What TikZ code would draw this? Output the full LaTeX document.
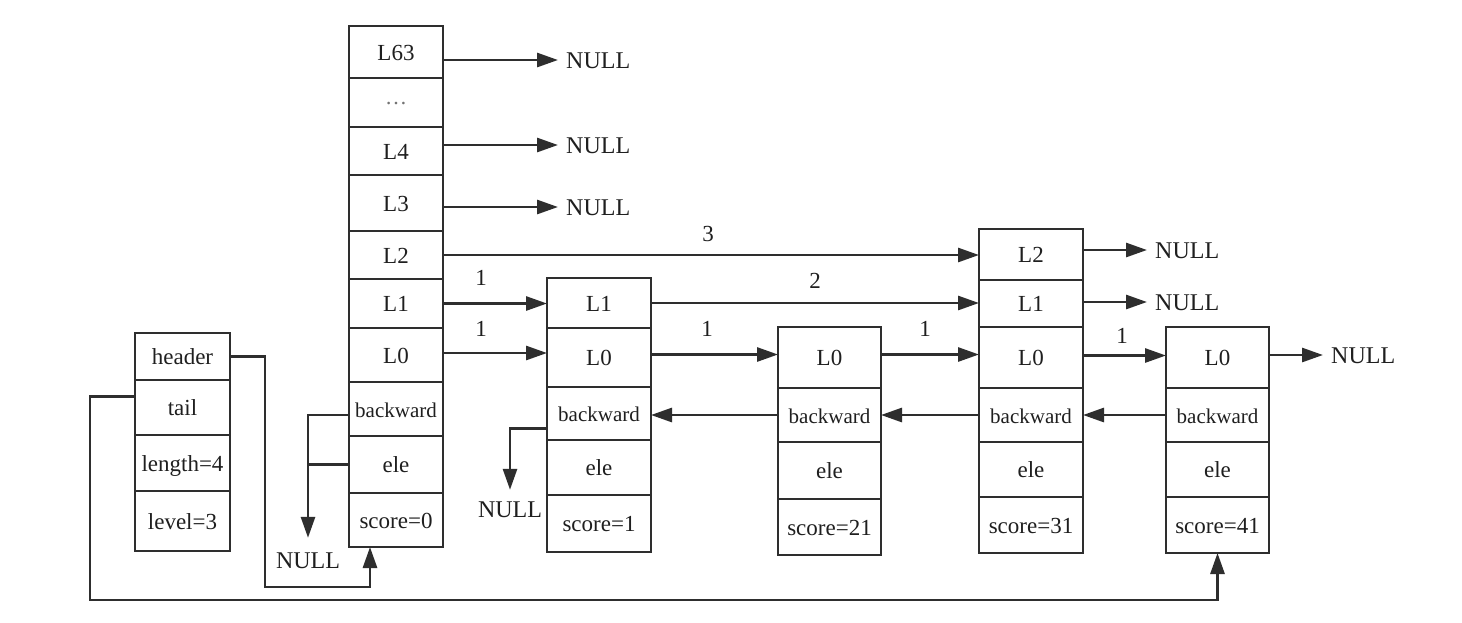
\documentclass[tikz,border=0pt]{standalone}
\usepackage{fontspec}
\setmainfont{Liberation Serif}
\usetikzlibrary{arrows.meta,calc}
\definecolor{ln}{gray}{0.18}
\definecolor{tx}{gray}{0.12}
\tikzset{
  cell/.style={draw=ln, line width=2.8pt, inner sep=0pt, outer sep=0pt,
    font=\fontsize{23}{26}\selectfont, text=tx, text height=16pt, text depth=0pt},
  lbl/.style={font=\fontsize{23}{26}\selectfont, text=tx, inner sep=0pt, text height=16pt, text depth=0pt},
  nul/.style={font=\fontsize{24}{28}\selectfont, text=tx, inner ysep=0pt, inner xsep=8pt,
    text height=16pt, text depth=0pt},
  arr/.style={draw=ln, line width=2.8pt, -{Triangle[length=21pt,width=14pt]}},
  plain/.style={draw=ln, line width=2.8pt},
}
% name, x-left, x-right, y-top, y-bottom, text
\newcommand\mkcell[6]{%
  \pgfmathsetmacro\mkW{#3-#2}\pgfmathsetmacro\mkH{#5-#4}%
  \pgfmathsetmacro\mkX{(#2+#3)/2}\pgfmathsetmacro\mkY{(#4+#5)/2}%
  \node[cell, minimum width=\mkW pt, minimum height=\mkH pt] (#1) at (\mkX,\mkY) {#6};}
\newcommand\bw{{\fontsize{21}{24}\selectfont backward}}
\begin{document}
\begin{tikzpicture}[x=1pt,y=-1pt]
\useasboundingbox[fill=white] (0,0) rectangle (1462,622);

% list struct
\mkcell{sh}{135}{230}{333}{380}{header}
\mkcell{st}{135}{230}{380}{435}{tail}
\mkcell{sl}{135}{230}{435}{491}{length=4}
\mkcell{sv}{135}{230}{491}{551}{level=3}

% header node
\mkcell{h63}{349}{443}{26}{78}{L63}
\mkcell{hd}{349}{443}{78}{127}{\raisebox{6pt}{\textcolor{black!55}{\fontsize{22}{24}\selectfont\dots}}}
\mkcell{h4}{349}{443}{127}{175}{L4}
\mkcell{h3}{349}{443}{175}{231}{L3}
\mkcell{h2}{349}{443}{231}{279}{L2}
\mkcell{h1}{349}{443}{279}{328}{L1}
\mkcell{h0}{349}{443}{328}{382}{L0}
\mkcell{hb}{349}{443}{382}{436}{\bw}
\mkcell{he}{349}{443}{436}{493}{ele}
\mkcell{hs}{349}{443}{493}{547}{score=0}

% node 1
\mkcell{a1}{547}{651}{278}{328}{L1}
\mkcell{a0}{547}{651}{328}{387}{L0}
\mkcell{ab}{547}{651}{387}{440}{\bw}
\mkcell{ae}{547}{651}{440}{495}{ele}
\mkcell{as}{547}{651}{495}{552}{score=1}

% node 2
\mkcell{b0}{778}{881}{327}{388}{L0}
\mkcell{bb}{778}{881}{388}{442}{\bw}
\mkcell{be}{778}{881}{442}{499}{ele}
\mkcell{bs}{778}{881}{499}{555}{score=21}

% node 3
\mkcell{c2}{979}{1083}{229}{280}{L2}
\mkcell{c1}{979}{1083}{280}{327}{L1}
\mkcell{c0}{979}{1083}{327}{388}{L0}
\mkcell{cb}{979}{1083}{388}{442}{\bw}
\mkcell{ce}{979}{1083}{442}{497}{ele}
\mkcell{cs}{979}{1083}{497}{553}{score=31}

% node 4
\mkcell{d0}{1166}{1269}{327}{388}{L0}
\mkcell{db}{1166}{1269}{388}{442}{\bw}
\mkcell{de}{1166}{1269}{442}{497}{ele}
\mkcell{ds}{1166}{1269}{497}{553}{score=41}

% NULL targets
\node[nul, anchor=west] (x63) at (558,60) {NULL};
\node[nul, anchor=west] (x4) at (558,145) {NULL};
\node[nul, anchor=west] (x3) at (558,207) {NULL};
\node[nul, anchor=west] (y2) at (1147,250) {NULL};
\node[nul, anchor=west] (y1) at (1147,302) {NULL};
\node[nul, anchor=west] (y0) at (1323,355) {NULL};
\node[nul, inner xsep=0pt] (z1) at (510,509) {NULL};
\node[nul, inner xsep=0pt] (z0) at (308,560) {NULL};

% forward pointers
\draw[arr] (x63.west -| h63.east) -- (x63.west);
\draw[arr] (x4.west -| h4.east) -- (x4.west);
\draw[arr] (x3.west -| h3.east) -- (x3.west);
\draw[arr] (h2.east) -- (h2.east -| c2.west);
\draw[arr] (h1.east) -- (h1.east -| a1.west);
\draw[arr] ([yshift=2pt]h0.east) -- ([yshift=2pt]h0.east -| a0.west);
\draw[arr] (a1.east) -- (a1.east -| c1.west);
\draw[arr] ([yshift=3pt]a0.east) -- ([yshift=3pt]a0.east -| b0.west);
\draw[arr] ([yshift=3pt]b0.east) -- ([yshift=3pt]b0.east -| c0.west);
\draw[arr] ([yshift=2pt]c0.east) -- ([yshift=2pt]c0.east -| d0.west);
\draw[arr] (y2.west -| c2.east) -- (y2.west);
\draw[arr] (y1.west -| c1.east) -- (y1.west);
\draw[arr] (y0.west -| d0.east) -- (y0.west);

% span labels
\node[lbl] (s3) at (708,233) {3};
\node[lbl] (s1a) at (481,277) {1};
\node[lbl] (s1b) at (481,328) {1};
\node[lbl] (s2) at (815,280) {2};
\node[lbl] (s1c) at (707,328) {1};
\node[lbl] (s1d) at (925,328) {1};
\node[lbl] (s1e) at (1122,335) {1};

% backward pointers
\draw[arr] (bb.west) -- (bb.west -| ab.east);
\draw[arr] (cb.west) -- (cb.west -| bb.east);
\draw[arr] (db.west) -- (db.west -| cb.east);
\draw[arr] ([yshift=-15pt]ab.west) -| ([yshift=11pt]z1.north);
\draw[arr] ([yshift=-6pt]hb.west) -| ([yshift=14pt]z0.north);
\draw[plain] (he.west) -- (he.west -| z0.north);

% header and tail pointers
\coordinate (hbot) at ($(hs.south)+(-26,0)$);
\draw[arr] (sh.east) -- ++(35,0) |- ($(hbot)+(0,40)$) -- (hbot);
\draw[arr] ([yshift=11pt]st.west) -- ++(-45,0) |- ($(ds.south)+(0,47)$) -- (ds.south);
\end{tikzpicture}
\end{document}
